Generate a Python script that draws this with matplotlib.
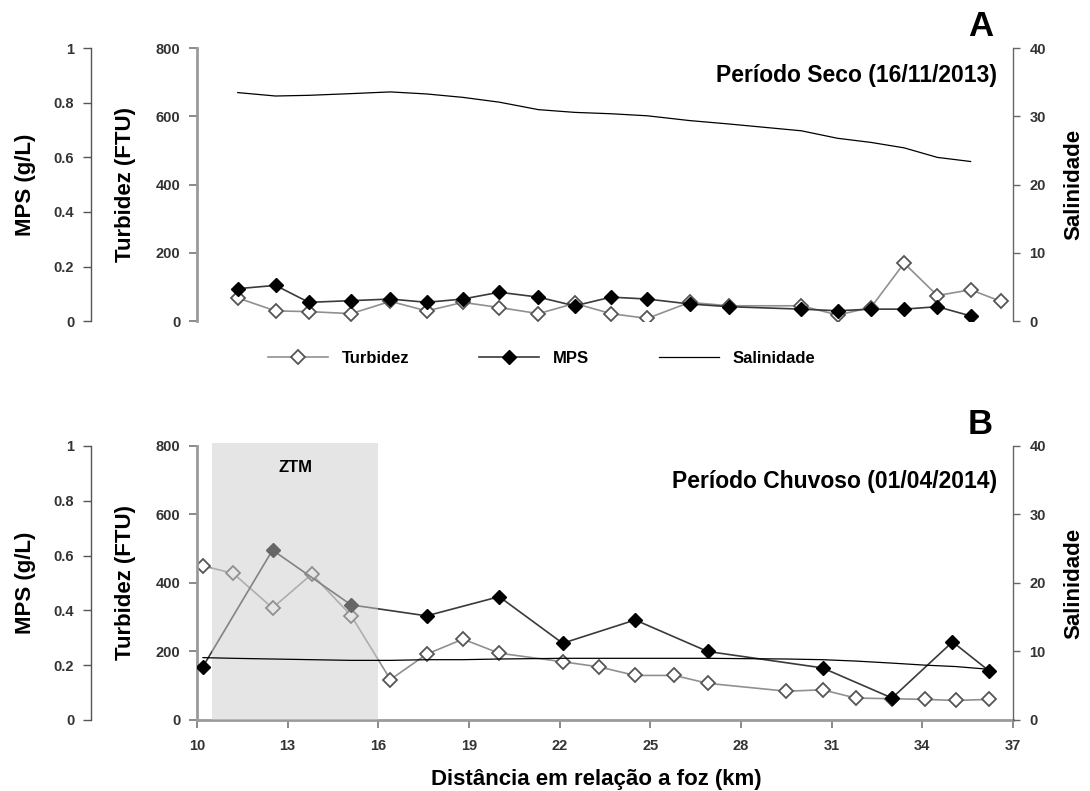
import matplotlib
matplotlib.use("Agg")
import matplotlib.pyplot as plt
from matplotlib.lines import Line2D
from matplotlib.ticker import FuncFormatter

plt.rcParams['font.family'] = ['Liberation Sans', 'DejaVu Sans']
plt.rcParams['font.weight'] = 'bold'
plt.rcParams['axes.labelweight'] = 'bold'

# Panel A - Periodo Seco (16/11/2013)
km_a = [11.35, 12.6, 13.7, 15.1, 16.4, 17.6, 18.8, 20.0, 21.3, 22.5, 23.7,
        24.9, 26.3, 27.6, 30.0, 31.2, 32.3, 33.4, 34.5, 35.6, 36.6]
turb_a = [68, 30, 28, 22, 58, 30, 55, 40, 22, 52, 22,
          8, 55, 45, 45, 18, 40, 170, 75, 92, 58]
km_mps_a = km_a[:20]
mps_a = [0.119, 0.131, 0.069, 0.075, 0.081, 0.069, 0.081, 0.106, 0.088, 0.056,
         0.088, 0.081, 0.063, 0.053, 0.044, 0.038, 0.044, 0.044, 0.053, 0.019]
sal_a = [33.5, 33.0, 33.1, 33.35, 33.6, 33.3, 32.8, 32.1, 31.0, 30.6,
         30.4, 30.1, 29.4, 28.9, 27.9, 26.8, 26.2, 25.4, 24.0, 23.4]

# Panel B - Periodo Chuvoso (01/04/2014)
km_b = [10.2, 11.2, 12.5, 13.8, 15.1, 16.4, 17.6, 18.8, 20.0, 22.1, 23.3,
        24.5, 25.8, 26.9, 29.5, 30.7, 31.8, 33.0, 34.1, 35.1, 36.2]
turb_b = [450, 428, 327, 426, 305, 118, 192, 236, 195, 170, 155,
          130, 130, 107, 84, 88, 64, 62, 60, 57, 60]
km_mps_b = [10.2, 12.5, 15.1, 17.6, 20.0, 22.1, 24.5, 26.9, 30.7, 33.0, 35.0, 36.2]
mps_b = [0.195, 0.62, 0.42, 0.38, 0.45, 0.28, 0.365, 0.25, 0.19, 0.08, 0.285, 0.18]
sal_b = [9.1, 9.0, 8.9, 8.8, 8.7, 8.7, 8.8, 8.8, 8.9, 9.0, 9.0,
         9.0, 9.0, 9.0, 8.9, 8.8, 8.6, 8.3, 8.0, 7.8, 7.4]

ztm = (10.5, 16.0)
x_ticks = [10, 13, 16, 19, 22, 25, 28, 31, 34, 37]

TURB_LINE = '#909090'
TURB_EDGE = '#555555'
MPS_LINE = '#3a3a3a'
TICK_COL = '#333333'
W, H = 1090.0, 791.0


def panel(fig, rect, km_t, turb, km_m, mps, km_s, sal, letter, title, title_y, bottom):
    ax = fig.add_axes(rect)
    ax_m = ax.twinx()
    ax_s = ax.twinx()

    ax.plot(km_t, turb, color=TURB_LINE, lw=1.2, marker='D', ms=7,
            mfc='white', mec=TURB_EDGE, mew=1.3)
    ax_m.plot(km_m, mps, color=MPS_LINE, lw=1.2, marker='D', ms=7,
              mfc='black', mec='black')
    ax_s.plot(km_s, sal, color='black', lw=0.9, zorder=3)

    ax.set_xlim(10, 37)
    ax.set_ylim(0, 800)
    ax_m.set_ylim(0, 1)
    ax_s.set_ylim(0, 40)

    ax.set_yticks([0, 200, 400, 600, 800])
    ax_m.set_yticks([0, 0.2, 0.4, 0.6, 0.8, 1.0])
    ax_m.yaxis.set_major_formatter(FuncFormatter(lambda v, p: '%g' % v))
    ax_s.set_yticks([0, 10, 20, 30, 40])

    for a in (ax, ax_m, ax_s):
        for s in a.spines.values():
            s.set_visible(False)
        a.patch.set_visible(False)

    ax.spines['left'].set_visible(True)
    ax.spines['left'].set_color('#9a9a9a')
    ax.spines['left'].set_linewidth(2)
    ax.tick_params(axis='y', direction='out', length=6, width=1.2,
                   color='#777777', labelcolor=TICK_COL, labelsize=10.5, pad=6)

    ax_m.yaxis.set_ticks_position('left')
    ax_m.spines['left'].set_visible(True)
    ax_m.spines['left'].set_position(('axes', -0.13))
    ax_m.spines['left'].set_color('#555555')
    ax_m.spines['left'].set_linewidth(1)
    ax_m.tick_params(axis='y', direction='out', length=6, width=1,
                     color='#555555', labelcolor=TICK_COL, labelsize=10.5, pad=6)

    ax_s.spines['right'].set_visible(True)
    ax_s.spines['right'].set_color('#666666')
    ax_s.spines['right'].set_linewidth(1)
    ax_s.tick_params(axis='y', direction='out', length=5, width=1,
                     color='#666666', labelcolor=TICK_COL, labelsize=10.5, pad=7)

    for a in (ax, ax_m, ax_s):
        for t in a.get_yticklabels():
            t.set_fontweight('bold')

    # axis titles at fixed pixel centres
    yc = rect[1] + rect[3] / 2
    fig.text(26 / W, yc, 'MPS (g/L)', rotation=90, ha='center', va='center',
             fontsize=16, fontweight='bold')
    fig.text(125 / W, yc, 'Turbidez (FTU)', rotation=90, ha='center', va='center',
             fontsize=16, fontweight='bold')
    fig.text(1074 / W, yc, 'Salinidade', rotation=90, ha='center', va='center',
             fontsize=16, fontweight='bold')

    if bottom:
        ax.spines['bottom'].set_visible(True)
        ax.spines['bottom'].set_color('#9a9a9a')
        ax.spines['bottom'].set_linewidth(2)
        ax.set_xticks(x_ticks)
        ax.tick_params(axis='x', direction='out', length=6, width=1.2,
                       color='#777777', labelcolor=TICK_COL, labelsize=10.5, pad=8)
        for t in ax.get_xticklabels():
            t.set_fontweight('bold')
    else:
        ax.set_xticks([])

    ax.text(0.981, title_y, title, transform=ax.transAxes,
            ha='right', va='center', fontsize=16.5, fontweight='bold')
    ax.text(0.96, 1.08, letter, transform=ax.transAxes, ha='center',
            va='center', fontsize=25, fontweight='bold')
    return ax, ax_m, ax_s


fig = plt.figure(figsize=(10.9, 7.91), dpi=100)

panel(fig, [0.1807, 0.594, 0.7486, 0.345], km_a, turb_a, km_mps_a, mps_a,
      km_mps_a, sal_a, 'A', 'Período Seco (16/11/2013)', 0.90, False)
axb, axb_m, axb_s = panel(fig, [0.1807, 0.0898, 0.7486, 0.3464], km_b, turb_b,
                          km_mps_b, mps_b, km_b, sal_b, 'B',
                          'Período Chuvoso (01/04/2014)', 0.872, True)

fig.text(0.5 * (180 + 1013) / W, (H - 779) / H, 'Distância em relação a foz (km)',
         ha='center', va='center', fontsize=16, fontweight='bold')

# ZTM shading drawn above the markers so they look grey inside it
axb_s.axvspan(ztm[0], ztm[1], ymin=0, ymax=1.01, color='#cccccc', alpha=0.5,
              lw=0, zorder=2, clip_on=False)
axb_s.text((ztm[0] + ztm[1]) / 2, 0.923, 'ZTM', transform=axb_s.get_xaxis_transform(),
           ha='center', va='center', fontsize=12, fontweight='bold')

handles = [
    Line2D([], [], color=TURB_LINE, lw=1.2, marker='D', ms=7, mfc='white',
           mec=TURB_EDGE, mew=1.3),
    Line2D([], [], color=MPS_LINE, lw=1.2, marker='D', ms=7, mfc='black',
           mec='black'),
    Line2D([], [], color='black', lw=0.9),
]
fig.legend(handles, ['Turbidez', 'MPS', 'Salinidade'], loc='center',
           bbox_to_anchor=(0.497, 0.547), ncol=3, frameon=False,
           prop={'size': 12, 'weight': 'bold'},
           handlelength=3.6, columnspacing=4.2, handletextpad=0.8)

fig.savefig('out.png', dpi=100)
